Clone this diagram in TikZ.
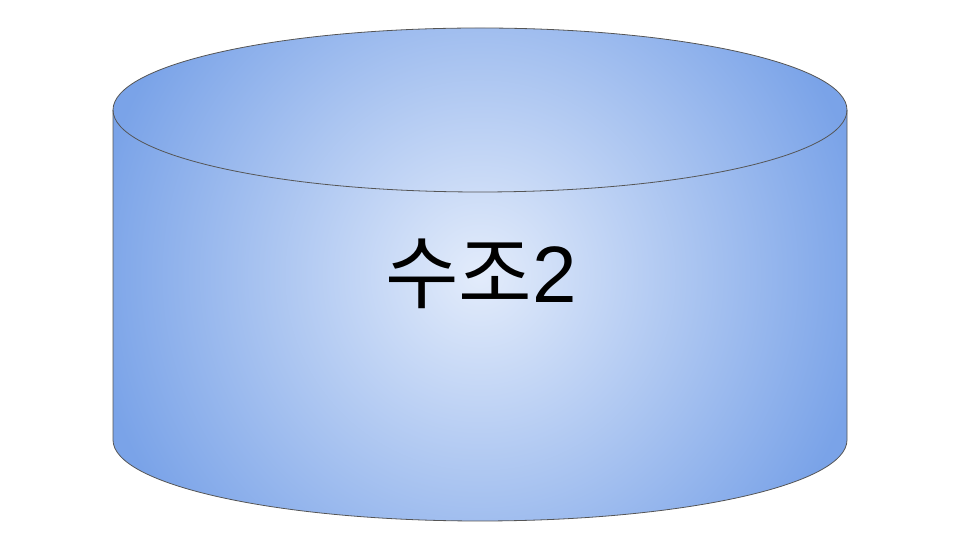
\documentclass[tikz,border=0pt]{standalone}
\usepackage{fontspec}
\setmainfont{Liberation Sans}
\newfontfamily\krfont{Noto Sans CJK KR}
\definecolor{tankedge}{HTML}{7AA3E8}
\definecolor{tankmid}{HTML}{E3ECFB}
\definecolor{tankline}{HTML}{555555}
\begin{document}
\begin{tikzpicture}[x=1pt,y=1pt]
    \tikzset{tankline/.style={draw=tankline, line width=0.8pt}}
    \useasboundingbox (0,0) rectangle (960,540);
    % body of the tank, shaded round its middle
    \begin{scope}
        \clip (113,430) -- (113,100) arc (180:360:367 and 81)
            -- (847,430) arc (0:180:367 and 82) -- cycle;
        \shade[inner color=tankmid, outer color=tankedge]
            (90,-125) rectangle (870,655);
    \end{scope}
    \path[tankline] (113,430) -- (113,100) arc (180:360:367 and 81)
        -- (847,430) arc (0:180:367 and 82) -- cycle;
    % rim of the top
    \draw[tankline] (113,430) arc (180:360:367 and 82);
    \node[font=\fontsize{80}{84}\selectfont, anchor=base, inner sep=0pt]
        (label) at (481,237) {{\krfont 수조}2};
\end{tikzpicture}
\end{document}
